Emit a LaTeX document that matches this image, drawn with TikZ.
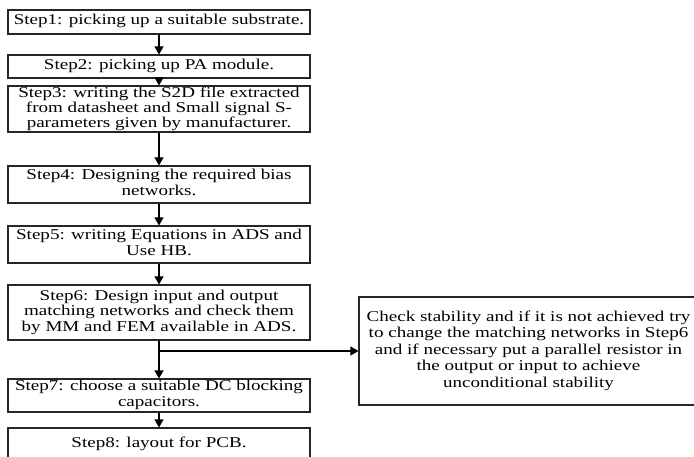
\documentclass[tikz,border=0pt]{standalone}
\usepackage{fontspec}
\setmainfont{Liberation Serif}
\usepackage{graphicx}
\usetikzlibrary{arrows.meta}
\newcommand{\boxtext}[2]{\scalebox{1.27}[1]{\fontsize{15}{#1}\selectfont\begin{tabular}{@{}c@{}}#2\end{tabular}}}
\begin{document}
\begin{tikzpicture}[x=1pt,y=-1pt,
  stepbox/.style={draw=black!85, line width=1.1pt, inner sep=0pt, minimum width=302pt},
  flow/.style={line width=1.1pt, -{Triangle[length=8pt,width=9pt]}}]
\useasboundingbox (0,0) rectangle (694,457);
\clip (0,0) rectangle (694,457);
\node[stepbox, minimum height=24pt] (s1) at (159,22) {\boxtext{15}{Step1: picking up a suitable substrate.}};
\node[stepbox, minimum height=23pt] (s2) at (159,66.5) {\boxtext{15}{Step2: picking up PA module.}};
\node[stepbox, minimum height=46pt] (s3) at (159,109) {\boxtext{14.5}{Step3: writing the S2D file extracted\\from datasheet and Small signal S-\\parameters given by manufacturer.}};
\node[stepbox, minimum height=37pt] (s4) at (159,184.5) {\boxtext{15.5}{Step4: Designing the required bias\\networks.}};
\node[stepbox, minimum height=37pt] (s5) at (159,244.5) {\boxtext{15.5}{Step5: writing Equations in ADS and\\Use HB.}};
\node[stepbox, minimum height=55pt] (s6) at (159,312.5) {\boxtext{15.5}{Step6: Design input and output\\matching networks and check them\\by MM and FEM available in ADS.}};
\node[stepbox, minimum height=33pt] (s7) at (159,395.5) {\boxtext{15.5}{Step7: choose a suitable DC blocking\\capacitors.}};
\node[stepbox, minimum height=32pt] (s8) at (159,444) {\boxtext{15}{Step8: layout for PCB.}};
\node[stepbox, minimum width=339pt, minimum height=108pt] (chk) at (528.5,351) {\boxtext{16.5}{Check stability and if it is not achieved try\\to change the matching networks in Step6\\and if necessary put a parallel resistor in\\the output or input to achieve\\unconditional stability}};
\draw[flow] (s1) -- (s2);
\draw[flow] (s2) -- (s3);
\draw[flow] (s3) -- (s4);
\draw[flow] (s4) -- (s5);
\draw[flow] (s5) -- (s6);
\draw[flow] (s6) -- (s7);
\draw[flow] (s7) -- (s8);
\draw[flow] (s6.south |- chk.west) -- (chk.west);
\end{tikzpicture}
\end{document}
